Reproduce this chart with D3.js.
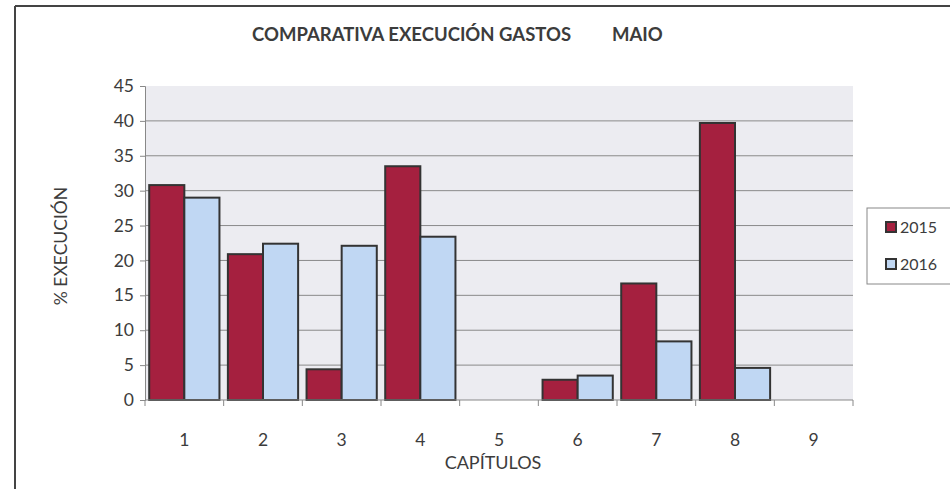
<!DOCTYPE html>
<html>
<head>
<meta charset="utf-8">
<script src="https://cdn.jsdelivr.net/npm/d3@7"></script>
<style>
  body { margin: 0; background: #fff; }
  text { font-family: Lato, "Open Sans", sans-serif; fill: #3c3c3c; }
</style>
</head>
<body>
<script>
// chart data
var capitulos = ["1", "2", "3", "4", "5", "6", "7", "8", "9"];
var series = ["2015", "2016"];
var v2015 = [30.8, 20.9, 4.4, 33.5, 0, 2.9, 16.7, 39.7, 0];
var v2016 = [29.0, 22.4, 22.1, 23.4, 0, 3.5, 8.4, 4.6, 0];
var yTicks = [0, 5, 10, 15, 20, 25, 30, 35, 40, 45];

var colors = {"2015": "#a5203f", "2016": "#c0d7f3"};

var W = 950, H = 489;
var plot = {left: 145, right: 853, top: 86, bottom: 400};

var svg = d3.select("body").append("svg")
    .attr("width", W)
    .attr("height", H);

// outer frame (only top and left edges show)
svg.append("line")
    .attr("x1", 15).attr("y1", 6).attr("x2", W).attr("y2", 6)
    .attr("stroke", "#444").attr("stroke-width", 2);
svg.append("line")
    .attr("x1", 15).attr("y1", 6).attr("x2", 15).attr("y2", H)
    .attr("stroke", "#444").attr("stroke-width", 2);

var x = d3.scaleBand()
    .domain(capitulos)
    .range([plot.left, plot.right])
    .padding(0);

var xs = d3.scaleBand()
    .domain(series)
    .range([0, x.bandwidth()])
    .paddingInner(0)
    .paddingOuter(0.12);

var y = d3.scaleLinear()
    .domain([0, 45])
    .range([plot.bottom, plot.top]);

// plot background
svg.append("rect")
    .attr("x", plot.left).attr("y", plot.top)
    .attr("width", plot.right - plot.left)
    .attr("height", plot.bottom - plot.top)
    .attr("fill", "#ececf1");

// gridlines
svg.append("g")
    .selectAll("line")
    .data(yTicks.filter(function(d){ return d > 0 && d < 45; }))
    .enter().append("line")
        .attr("x1", plot.left).attr("x2", plot.right)
        .attr("y1", function(d){ return y(d); })
        .attr("y2", function(d){ return y(d); })
        .attr("stroke", "#8a8a8a")
        .attr("stroke-width", 1);

// bars
var rows = capitulos.map(function(c, i) {
    return {cap: c, vals: [{s: "2015", v: v2015[i]}, {s: "2016", v: v2016[i]}]};
});

var groups = svg.selectAll("g.cap")
    .data(rows)
    .enter().append("g")
        .attr("class", "cap")
        .attr("transform", function(d){ return "translate(" + x(d.cap) + ",0)"; });

groups.selectAll("rect")
    .data(function(d){ return d.vals.filter(function(e){ return e.v > 0; }); })
    .enter().append("rect")
        .attr("x", function(d){ return xs(d.s); })
        .attr("y", function(d){ return y(d.v); })
        .attr("width", xs.bandwidth())
        .attr("height", function(d){ return y(0) - y(d.v); })
        .attr("fill", function(d){ return colors[d.s]; })
        .attr("stroke", "#333")
        .attr("stroke-width", 2);

// y axis
var yAxis = d3.axisLeft(y).tickValues(yTicks).tickSize(5).tickPadding(6);
var yg = svg.append("g")
    .attr("transform", "translate(" + plot.left + ",0)")
    .call(yAxis);
yg.select(".domain").attr("stroke", "#888");
yg.selectAll(".tick line").attr("stroke", "#888");
yg.selectAll("text").attr("font-size", 17.5).attr("fill", "#3c3c3c");

// x axis: ticks at category boundaries
var xg = svg.append("g")
    .attr("transform", "translate(0," + plot.bottom + ")");
xg.append("line")
    .attr("x1", plot.left).attr("x2", plot.right)
    .attr("stroke", "#888");
var bounds = capitulos.map(function(c){ return x(c); }).concat([plot.right]);
xg.selectAll("line.tk")
    .data(bounds)
    .enter().append("line")
        .attr("class", "tk")
        .attr("x1", function(d){ return d; }).attr("x2", function(d){ return d; })
        .attr("y1", 0).attr("y2", 6)
        .attr("stroke", "#888");
xg.selectAll("text")
    .data(capitulos)
    .enter().append("text")
        .attr("x", function(d){ return x(d) + x.bandwidth() / 2; })
        .attr("y", 46)
        .attr("text-anchor", "middle")
        .attr("font-size", 17.5)
        .text(function(d){ return d; });

// titles
svg.append("text")
    .attr("x", 252).attr("y", 41)
    .attr("font-size", 18.5).attr("font-weight", "bold")
    .attr("fill", "#333")
    .text("COMPARATIVA EXECUCIÓN GASTOS");
svg.append("text")
    .attr("x", 612).attr("y", 41)
    .attr("font-size", 18.5).attr("font-weight", "bold")
    .attr("fill", "#333")
    .text("MAIO");

svg.append("text")
    .attr("x", 493).attr("y", 469)
    .attr("text-anchor", "middle")
    .attr("font-size", 18)
    .text("CAPÍTULOS");

svg.append("text")
    .attr("transform", "translate(67,246) rotate(-90)")
    .attr("text-anchor", "middle")
    .attr("font-size", 17.5)
    .text("% EXECUCIÓN");

// legend
var legend = svg.append("g").attr("class", "legend");
legend.append("rect")
    .attr("x", 867).attr("y", 208)
    .attr("width", 90).attr("height", 76)
    .attr("fill", "#fff")
    .attr("stroke", "#888");

var li = legend.selectAll("g.item")
    .data(series)
    .enter().append("g")
        .attr("class", "item")
        .attr("transform", function(d, i){ return "translate(886," + (222 + i * 37) + ")"; });
li.append("rect")
    .attr("width", 10).attr("height", 10)
    .attr("fill", function(d){ return colors[d]; })
    .attr("stroke", "#333")
    .attr("stroke-width", 2);
li.append("text")
    .attr("x", 14).attr("y", 11)
    .attr("font-size", 16)
    .text(function(d){ return d; });
</script>
</body>
</html>
